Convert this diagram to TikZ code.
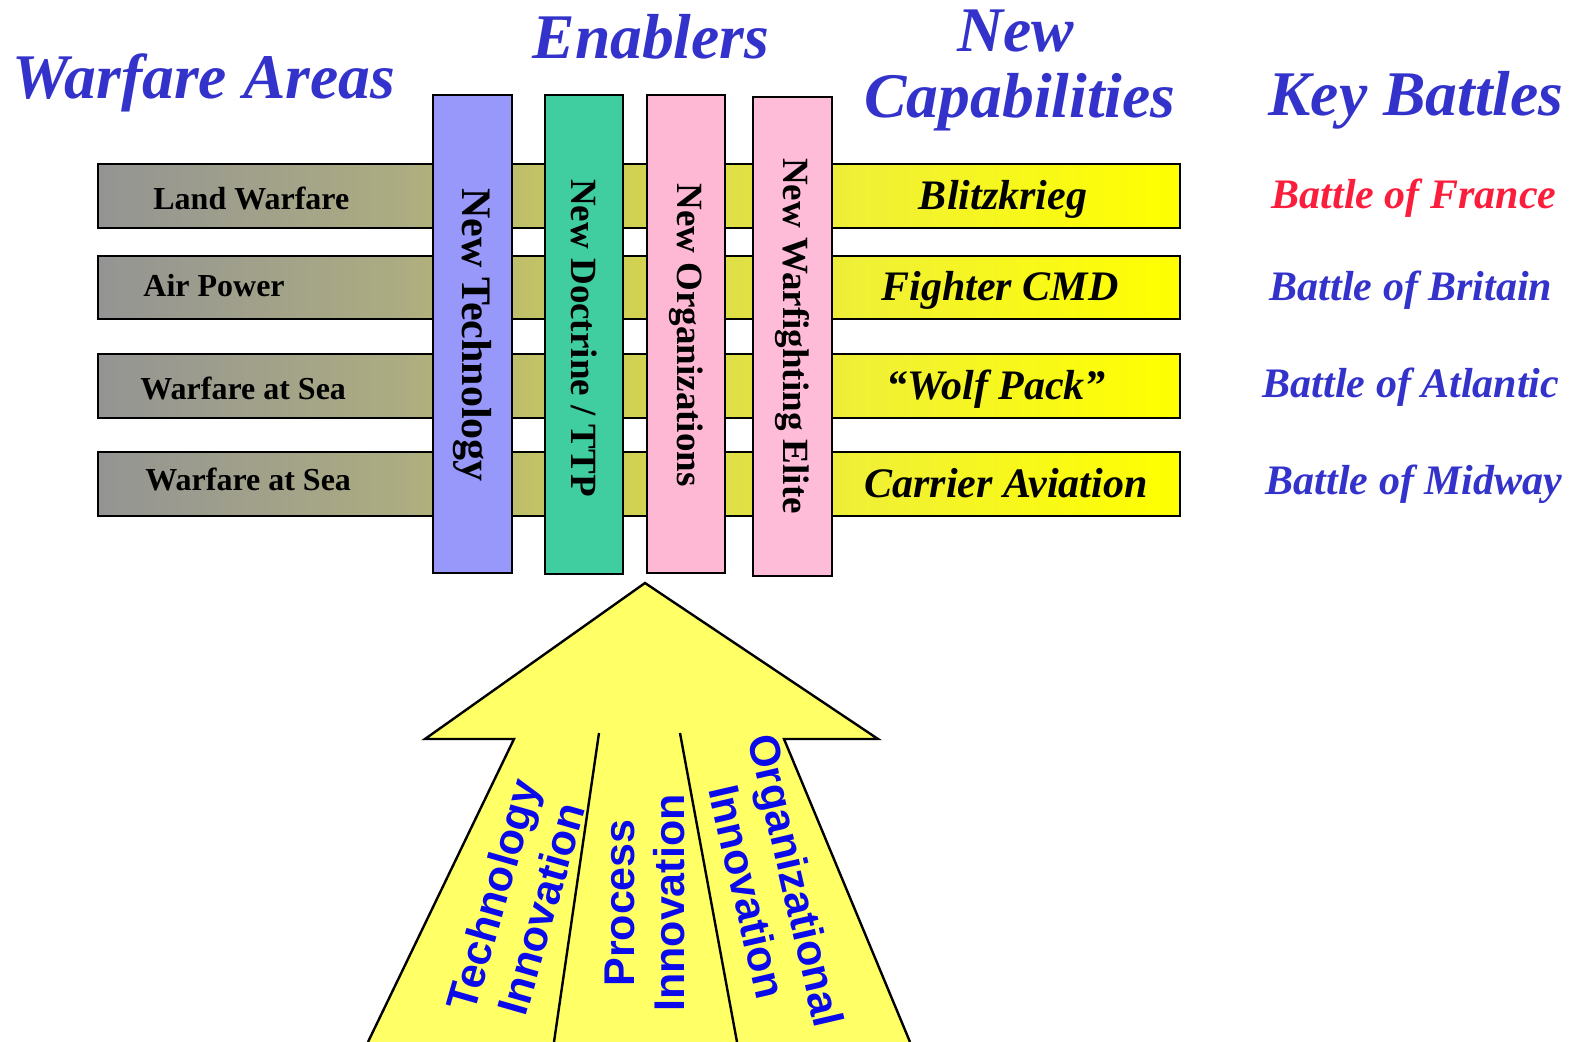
\documentclass[tikz,border=0pt]{standalone}
\usepackage{fontspec}
\setmainfont{Liberation Serif}
\setsansfont{Liberation Sans}

\definecolor{headblue}{RGB}{51,51,204}
\definecolor{battlered}{RGB}{250,30,60}
\definecolor{innoblue}{RGB}{10,10,235}
\definecolor{techblue}{RGB}{152,152,250}
\definecolor{doctgreen}{RGB}{64,206,160}
\definecolor{orgpink}{RGB}{255,184,212}
\definecolor{elitepink}{RGB}{255,188,216}
\definecolor{arrowyellow}{RGB}{255,255,102}
\definecolor{bargray}{RGB}{148,148,148}
\definecolor{barolive}{RGB}{172,172,130}
\definecolor{barmid}{RGB}{210,210,82}
\definecolor{barlight}{RGB}{240,240,55}
\definecolor{baryel}{RGB}{255,255,0}

% gray to yellow along the warfare strips
\pgfdeclarehorizontalshading{barshade}{100bp}{color(0bp)=(bargray); color(25bp)=(bargray); color(39bp)=(barolive); color(50bp)=(barmid); color(60bp)=(barlight); color(75bp)=(baryel); color(100bp)=(baryel)}

\tikzset{
  heading/.style={font=\fontsize{31.8}{36}\selectfont\bfseries\itshape, text=headblue, anchor=base, inner sep=0pt},
  arealabel/.style={font=\fontsize{16}{19}\selectfont\bfseries, anchor=base west, inner sep=0pt},
  caplabel/.style={font=\fontsize{21}{25}\selectfont\bfseries\itshape, anchor=base, inner sep=0pt},
  battle/.style={caplabel, text=headblue},
  enabler/.style={font=\fontsize{18.5}{22}\selectfont\bfseries, rotate=-90, inner sep=0pt},
  innolabel/.style={font=\sffamily\bfseries\fontsize{21.5}{25}\selectfont, text=innoblue, align=center, inner sep=0pt},
  strip/.style={draw, line width=1.2pt},
}

\begin{document}
\begin{tikzpicture}[x=0.5pt,y=-0.5pt]
\useasboundingbox (0,0) rectangle (1581,1042);

% Define the four warfare strips
\def\barA{(98,164) rectangle (1180,228)}
\def\barB{(98,256) rectangle (1180,319)}
\def\barC{(98,354) rectangle (1180,418)}
\def\barD{(98,452) rectangle (1180,516)}

% Define the four enabler columns
\def\colA{(433,95) rectangle (512,573)}
\def\colB{(545,95) rectangle (623,574)}
\def\colC{(647,95) rectangle (725,573)}
\def\colD{(753,97) rectangle (832,576)}

% Headings
\node[heading] (areas) at (204,99) {Warfare Areas};
\node[heading] (enablers) at (651,59) {Enablers};
\node[heading] (newcap) at (1016,52) {New};
\node[heading] (capab) at (1020,118) {Capabilities};
\node[heading] (battles) at (1416,116) {Key Battles};

% Strips behind the columns
\shade[strip, shading=barshade] \barA;
\shade[strip, shading=barshade] \barB;
\shade[strip, shading=barshade] \barC;
\shade[strip, shading=barshade] \barD;

\node[arealabel] (land) at (153,210) {Land Warfare};
\node[arealabel] (air) at (143,297) {Air Power};
\node[arealabel] (seaA) at (140,400) {Warfare at Sea};
\node[arealabel] (seaB) at (145,491) {Warfare at Sea};

% Enabler columns on top
\filldraw[strip, fill=techblue] \colA;
\filldraw[strip, fill=doctgreen] \colB;
\filldraw[strip, fill=orgpink] \colC;
\filldraw[strip, fill=elitepink] \colD;

\node[enabler, font=\fontsize{21}{25}\selectfont\bfseries] (tech) at (472,335) {New Technology};
\node[enabler] (doct) at (584,338) {New Doctrine / TTP};
\node[enabler] (orgs) at (686,335) {New Organizations};
\node[enabler] (elite) at (792,336) {New Warfighting Elite};

% New capabilities and battles
\node[caplabel] (blitz) at (1003,210) {Blitzkrieg};
\node[caplabel] (fighter) at (1000,301) {Fighter CMD};
\node[caplabel] (wolf) at (996,400) {“Wolf Pack”};
\node[caplabel] (carrier) at (1006,498) {Carrier Aviation};

\node[battle, text=battlered] (france) at (1414,209) {Battle of France};
\node[battle] (britain) at (1411,301) {Battle of Britain};
\node[battle] (atlantic) at (1411,398) {Battle of Atlantic};
\node[battle] (midway) at (1414,495) {Battle of Midway};

% Innovation arrow
\fill[arrowyellow] (368,1042) -- (514,739) -- (425,739) -- (645,583) -- (878,739) -- (784,739) -- (910,1042) -- cycle;
\draw[line width=1.2pt, line join=miter] (368,1042) -- (514,739) -- (425,739) -- (645,583) -- (878,739) -- (784,739) -- (910,1042);
\draw[line width=1.2pt] (599,733) -- (554,1042);
\draw[line width=1.2pt] (680,733) -- (737,1042);

\node[innolabel, rotate=74] (techinno) at (517,902) {Technology\\Innovation};
\node[innolabel, rotate=90] (procinno) at (645,903) {Process\\Innovation};
\node[innolabel, rotate=-77] (orginno) at (772,886) {Organizational\\Innovation};
\end{tikzpicture}
\end{document}
